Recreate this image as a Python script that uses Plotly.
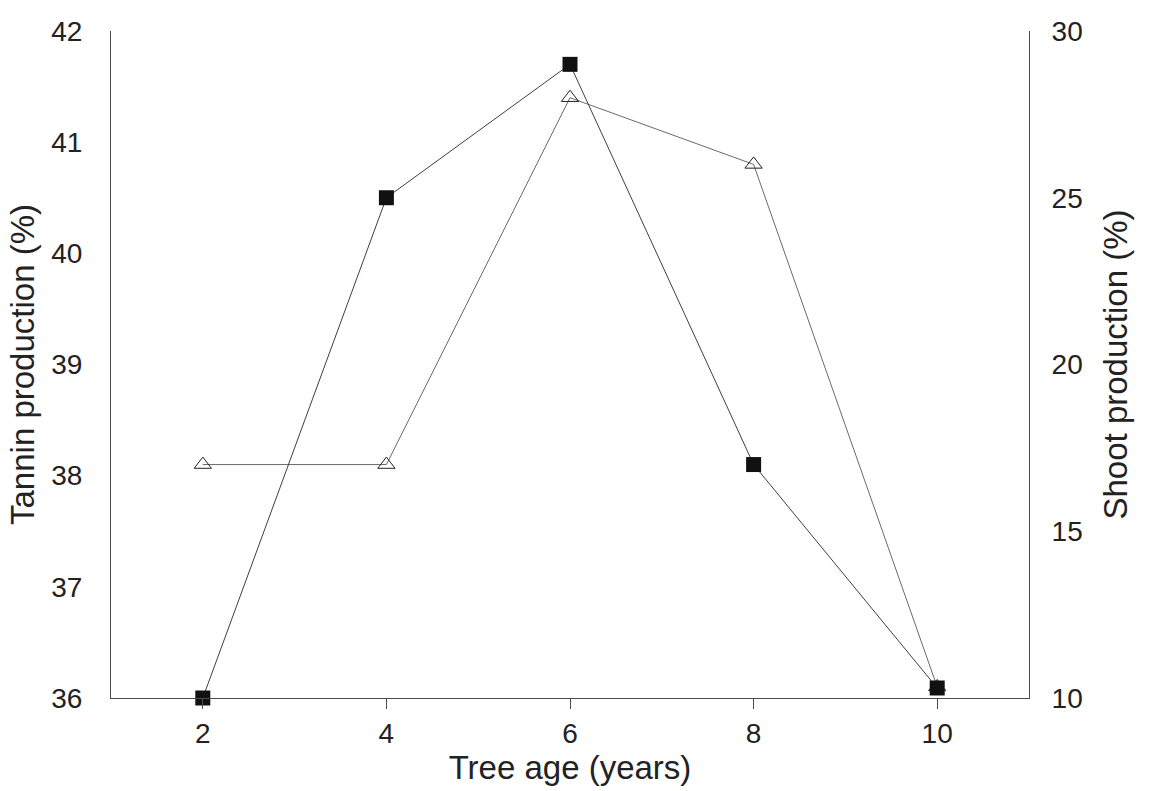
import plotly.graph_objects as go

# Tree age (years)
age = [2, 4, 6, 8, 10]
# Tannin production (%), left axis, open triangles
tannin = [38.1, 38.1, 41.4, 40.8, 36.1]
# Shoot production (%), right axis, filled squares
shoot = [10.0, 25.0, 29.0, 17.0, 10.3]

x_ticks = [2, 4, 6, 8, 10]
y_ticks = [36, 37, 38, 39, 40, 41, 42]
y2_ticks = [10, 15, 20, 25, 30]

FONT = "Liberation Sans, Arial, sans-serif"
LINE = "#4a4a4a"

fig = go.Figure()

fig.add_trace(go.Scatter(
    x=age, y=tannin, mode="lines+markers", name="Tannin",
    line=dict(color="#6a6a6a", width=1),
    marker=dict(symbol="triangle-up-open", size=15, color="#222",
                line=dict(width=1, color="#222")),
    yaxis="y", cliponaxis=False,
))

fig.add_trace(go.Scatter(
    x=age, y=shoot, mode="lines+markers", name="Shoot",
    line=dict(color="#4a3a3a", width=1),
    marker=dict(symbol="square", size=15, color="#111",
                line=dict(width=0)),
    yaxis="y2", cliponaxis=False,
))

axis_font = dict(family=FONT, size=28, color="#222")
title_font = dict(family=FONT, size=33, color="#222")

fig.update_layout(
    width=1150, height=791,
    margin=dict(l=111, r=121, t=31, b=93),
    paper_bgcolor="white", plot_bgcolor="white",
    showlegend=False,
    font=dict(family=FONT, color="#222"),
    xaxis=dict(
        range=[1, 11], tickvals=x_ticks, ticktext=[str(v) for v in x_ticks],
        showgrid=False, zeroline=False,
        showline=True, linecolor=LINE, linewidth=1, mirror=False,
        ticks="outside", ticklen=10, tickwidth=1, tickcolor=LINE,
        tickfont=axis_font,
        title=dict(text="Tree age (years)", font=title_font, standoff=2),
    ),
    yaxis=dict(
        range=[36, 42], tickvals=y_ticks, ticktext=[str(v) for v in y_ticks],
        showgrid=False, zeroline=False,
        showline=True, linecolor=LINE, linewidth=1,
        ticks="", ticklabelstandoff=22,
        tickfont=axis_font,
        title=dict(text="Tannin production (%)", font=title_font, standoff=6),
    ),
    yaxis2=dict(
        range=[10, 30], tickvals=y2_ticks, ticktext=[str(v) for v in y2_ticks],
        overlaying="y", side="right",
        showgrid=False, zeroline=False,
        showline=True, linecolor=LINE, linewidth=1,
        ticks="", ticklabelstandoff=16,
        tickfont=axis_font,
        title=dict(text="Shoot production (%)", font=title_font, standoff=22),
    ),
)

fig.write_html("out.html")
